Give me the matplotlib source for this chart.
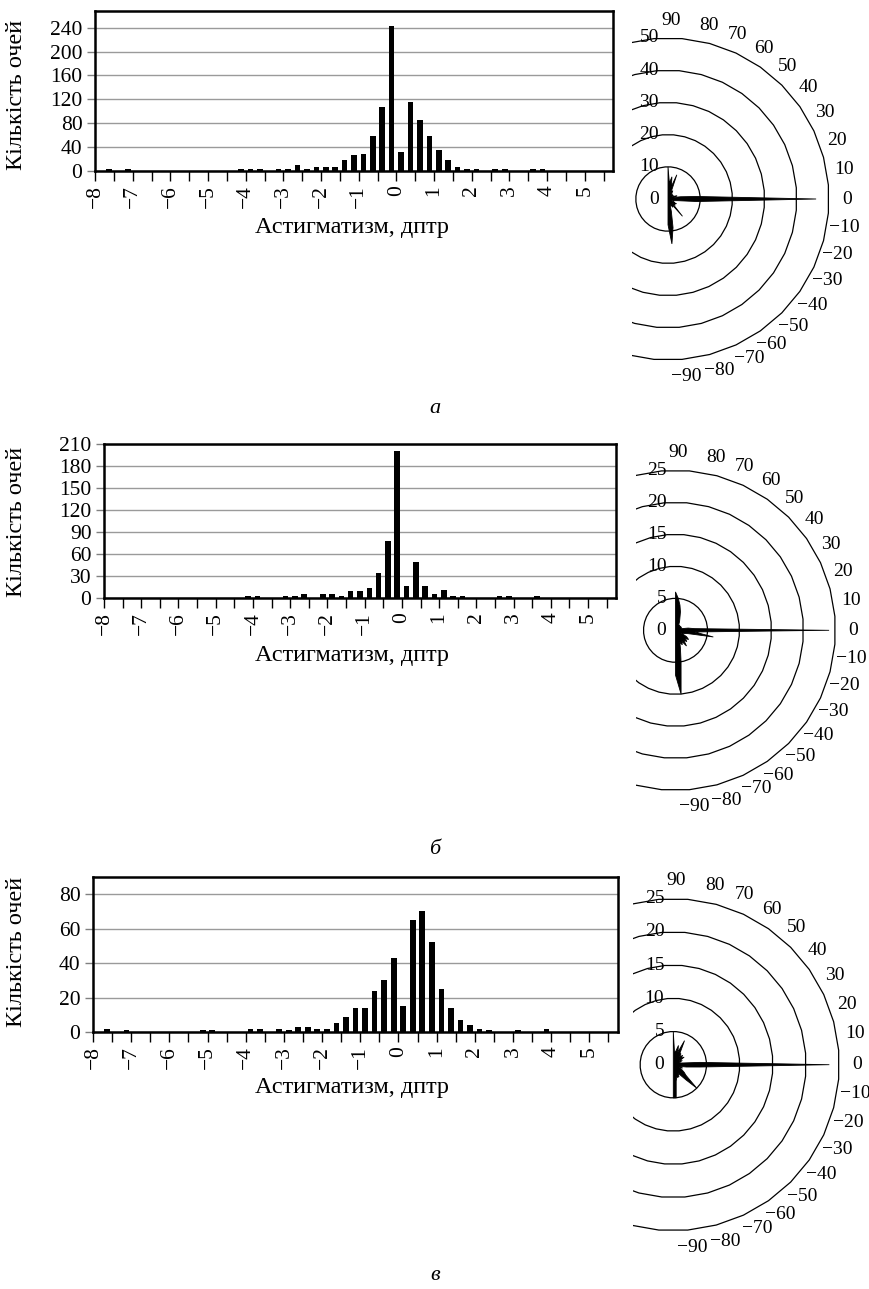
import numpy as np
import matplotlib
matplotlib.use("Agg")
import matplotlib.pyplot as plt
from matplotlib.patches import Rectangle
from matplotlib.transforms import offset_copy

plt.rcParams['font.family'] = ['Liberation Serif', 'DejaVu Serif']

# histogram bins: 0.25 dptr wide, from -8 to 5.75
bin_centers = np.arange(-7.875, 5.75, 0.25)

# counts per bin (index 0 -> -7.875 ... index 54 -> 5.625)
counts_a = [0, 3, 0, 3, 0, 0, 0, 0, 0, 0, 0, 0, 0, 0, 0, 3, 3, 3, 0, 3,
            3, 10, 3, 7, 7, 7, 18, 26, 29, 58, 108, 243, 32, 116, 86, 58, 35, 18, 7, 3,
            3, 0, 3, 3, 0, 0, 3, 3, 0, 0, 0, 0, 0, 0, 0]
counts_b = [0, 0, 0, 0, 0, 0, 0, 0, 0, 0, 0, 0, 0, 0, 0, 3, 3, 0, 0, 3,
            3, 6, 0, 6, 6, 3, 9, 9, 14, 34, 78, 201, 17, 49, 17, 6, 11, 3, 3, 0,
            0, 0, 3, 3, 0, 0, 3, 0, 0, 0, 0, 0, 0, 0, 0]
counts_c = [0, 2, 0, 1, 0, 0, 0, 0, 0, 0, 0, 1, 1, 0, 0, 0, 2, 2, 0, 2,
            1, 3, 3, 2, 2, 5, 9, 14, 14, 24, 30, 43, 15, 65, 70, 52, 25, 14, 7, 4,
            2, 1, 0, 0, 1, 0, 0, 2, 0, 0, 0, 0, 0, 0, 0]

x_ticks = np.arange(-8, 5.51, 0.5)
x_ticklabels = [('\u2212%d' % -t if t < 0 else '%d' % t) if t == int(t) else '' for t in x_ticks]

yticks_a = [0, 40, 80, 120, 160, 200, 240]
yticks_b = [0, 30, 60, 90, 120, 150, 180, 210]
yticks_c = [0, 20, 40, 60, 80]

# astigmatism axis distribution (degrees, step 5 from 90 down to -90)
axis_deg = np.arange(90, -91, -5)
polar_a = [10, 5, 7, 4, 8, 2, 3, 2, 2, 1, 2, 1, 2, 2, 3, 2, 4, 9, 46,
           9, 3, 2, 2, 1, 3, 2, 3, 2, 7, 2, 3, 2, 2, 4, 9, 14, 8]
polar_b = [6, 5, 4, 3, 2, 1.5, 1, 1, 1, 0.8, 1, 1, 1, 1, 1, 1, 2, 3, 24,
           3, 6, 2, 1.5, 1, 2, 2.5, 2, 2.5, 2, 3, 2, 2.5, 2, 3, 5, 10, 7]
polar_c = [5, 2, 2, 3, 2, 4, 2, 2, 1.5, 2, 1.5, 2, 1, 1.5, 1, 1, 1.5, 4, 23.5,
           4, 2, 1, 1.5, 1, 1.5, 2, 2.5, 5, 3, 2, 1.5, 2, 2, 2, 2.5, 5, 5]

rings_a = [10, 20, 30, 40, 50]
rings_bc = [5, 10, 15, 20, 25]
angle_labels = np.arange(90, -91, -10)

NUM_FS = 15.5
POL_FS = 14
LAB_FS = 17.5

W, H = 870, 1289
fig = plt.figure(figsize=(W / 100, H / 100), dpi=100)
fig.patch.set_facecolor('white')


def px_box(left, top, right, bottom):
    return [left / W, 1 - bottom / H, (right - left) / W, (bottom - top) / H]


def draw_hist(box, counts, yticks, ymax, ylabel_y, xlabel_y, caption, caption_y):
    ax = fig.add_axes(px_box(*box))
    ax.bar(bin_centers, counts, width=0.15, color='black', zorder=3)
    ax.set_xlim(-8, 5.75)
    ax.set_ylim(0, ymax)
    ax.set_yticks(yticks)
    ax.set_yticklabels([str(v) for v in yticks], fontsize=NUM_FS)
    ax.set_xticks(x_ticks)
    ax.set_xticklabels(x_ticklabels, rotation=90, fontsize=NUM_FS)
    ax.yaxis.grid(True, color='#9a9a9a', lw=1.0)
    ax.set_axisbelow(True)
    ax.tick_params(axis='x', direction='out', length=7, width=1, color='black', pad=3)
    ax.tick_params(axis='y', direction='out', length=6, width=1, color='#808080', pad=3)
    for s in ax.spines.values():
        s.set_linewidth(1.8)
        s.set_color('black')
    fig.text(17 / W, 1 - ylabel_y / H, 'Кількість очей', rotation=90,
             ha='center', va='center', fontsize=LAB_FS)
    fig.text(352 / W, 1 - xlabel_y / H, 'Астигматизм, дптр',
             ha='center', va='center', fontsize=LAB_FS)
    fig.text(435 / W, 1 - caption_y / H, caption, ha='center', va='center',
             fontsize=16, style='italic')
    return ax


# label placement around the half circle, as laid out in the source figure
special_angles = {90: 89, -90: -84, -80: -73.5, -70: -63}


def label_angle(v):
    if v in special_angles:
        return special_angles[v]
    return v * 0.96 if v >= 0 else v * 0.91


def draw_polar(cx, cy, R, rings, values, clip_x):
    rmax = rings[-1]
    pax = fig.add_axes(px_box(cx - R, cy - R, cx + R, cy + R), projection='polar')
    pax.set_ylim(0, rmax)
    pax.set_axis_off()
    clip = Rectangle((clip_x / W, 0), 1, 1, transform=fig.transFigure)
    ring_theta = np.deg2rad(np.arange(85, 85 - 360, -10))
    for r in rings:
        p = pax.fill(ring_theta, np.full(len(ring_theta), r), facecolor='none',
                     edgecolor='black', lw=0.9)[0]
        p.set_clip_path(clip)
    theta = np.deg2rad(np.append(axis_deg, 180))
    vals = np.append(values, 0)
    pax.fill(theta, vals, color='black', lw=0.6, zorder=4)
    # radial scale labels along the vertical
    off = offset_copy(pax.transData, fig=fig, x=-9, y=0, units='dots')
    for r in [0] + rings:
        pax.text(np.pi / 2, r, str(r), transform=off, ha='right', va='center', fontsize=POL_FS)
    # angle labels around the outside
    for v in angle_labels:
        txt = '\u2212%d' % -v if v < 0 else '%d' % v
        pax.text(np.deg2rad(label_angle(v)), rmax * 1.11, txt,
                 ha='center', va='center', fontsize=POL_FS)
    return pax


draw_hist((95, 11, 613, 171), counts_a, yticks_a, 268, 95, 228, 'а', 408)
draw_hist((104, 444, 616, 598), counts_b, yticks_b, 210, 522, 655, 'б', 849)
draw_hist((93, 877, 618, 1032), counts_c, yticks_c, 90, 952, 1087, 'в', 1275)

draw_polar(668, 199, 161, rings_a, polar_a, 632)
draw_polar(675.5, 630.3, 160, rings_bc, polar_b, 636)
draw_polar(673.3, 1064.7, 166, rings_bc, polar_c, 633)

fig.savefig('out.png', dpi=100, facecolor='white')
